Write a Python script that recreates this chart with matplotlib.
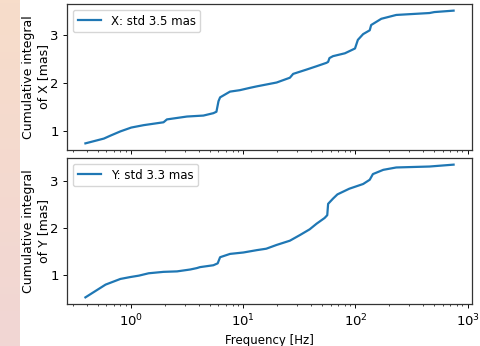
import matplotlib
matplotlib.use("Agg")
import matplotlib.pyplot as plt
import numpy as np

# cumulative integral of the PSD
freq_x = [0.39, 0.57, 0.65, 0.80, 1.0, 1.29, 1.94, 2.08, 3.14, 4.4, 5.4, 5.75,
          6.0, 6.2, 7.6, 9.3, 11.5, 13.2, 19.8, 26, 27.8, 36.6, 45, 55, 57,
          58.6, 63, 80.5, 99, 105, 117, 134, 138, 170, 231, 457, 505, 750]
cum_x = [0.74, 0.84, 0.90, 0.99, 1.07, 1.12, 1.18, 1.24, 1.30, 1.32, 1.37, 1.40,
         1.62, 1.70, 1.82, 1.85, 1.90, 1.93, 2.01, 2.11, 2.19, 2.28, 2.35, 2.42, 2.44,
         2.52, 2.56, 2.62, 2.72, 2.90, 3.02, 3.10, 3.21, 3.34, 3.42, 3.46, 3.48, 3.51]

freq_y = [0.39, 0.59, 0.80, 0.98, 1.17, 1.43, 1.94, 2.56, 3.36, 3.85, 4.1, 5.4,
          5.9, 6.2, 7.6, 10, 13.2, 16, 19.8, 26, 32, 39, 45, 53, 56, 57,
          63, 69, 88, 117, 134, 143, 177, 231, 457, 750]
cum_y = [0.53, 0.80, 0.92, 0.96, 0.99, 1.04, 1.07, 1.08, 1.12, 1.15, 1.17, 1.21,
         1.25, 1.38, 1.45, 1.48, 1.53, 1.56, 1.64, 1.73, 1.85, 1.97, 2.09, 2.21, 2.27, 2.51,
         2.62, 2.71, 2.83, 2.93, 3.02, 3.14, 3.23, 3.28, 3.30, 3.34]

std_x = 3.5
std_y = 3.3

# the reference looks like a default figure shrunk by ~0.85
s = 0.85
plt.rcParams['font.size'] = 8.5
plt.rcParams['axes.labelsize'] = 8.5
for a in ('xtick', 'ytick'):
    plt.rcParams[a + '.major.size'] = 3.5 * s
    plt.rcParams[a + '.minor.size'] = 2 * s
    plt.rcParams[a + '.major.pad'] = 3.5 * s
    plt.rcParams[a + '.major.width'] = 0.8 * s
    plt.rcParams[a + '.minor.width'] = 0.6 * s
    plt.rcParams[a + '.labelsize'] = 9.5
plt.rcParams['axes.labelpad'] = 4 * s
plt.rcParams['axes.linewidth'] = 0.9
plt.rcParams['axes.edgecolor'] = '#333333'
plt.rcParams['lines.linewidth'] = 1.6

fig = plt.figure(figsize=(4.81, 3.46), dpi=100)

# peach strip on the left edge of the screenshot
strip = fig.add_axes([0, 0, 20 / 481, 1])
grad = np.linspace(0, 1, 100)[:, None, None]
top_c = np.array([247, 221, 202]) / 255
bot_c = np.array([241, 214, 212]) / 255
strip.imshow(top_c * (1 - grad) + bot_c * grad, aspect='auto')
strip.axis('off')

ax1 = fig.add_axes([67 / 481, 1 - 150 / 346, 405 / 481, 146 / 346])
ax2 = fig.add_axes([67 / 481, 1 - 304 / 346, 405 / 481, 146 / 346], sharex=ax1)

ax1.semilogx(freq_x, cum_x, label='X: std %.1f mas' % std_x)
ax1.set_ylabel('Cumulative integral\nof X [mas]', fontsize=9, labelpad=0)
ax1.legend(loc='upper left')
ax1.tick_params(labelbottom=False)

ax2.semilogx(freq_y, cum_y, label='Y: std %.1f mas' % std_y)
ax2.set_ylabel('Cumulative integral\nof Y [mas]', fontsize=9, labelpad=0)
ax2.set_xlabel('Frequency [Hz]')
ax2.legend(loc='upper left')

fig.savefig('out.png', dpi=100)
